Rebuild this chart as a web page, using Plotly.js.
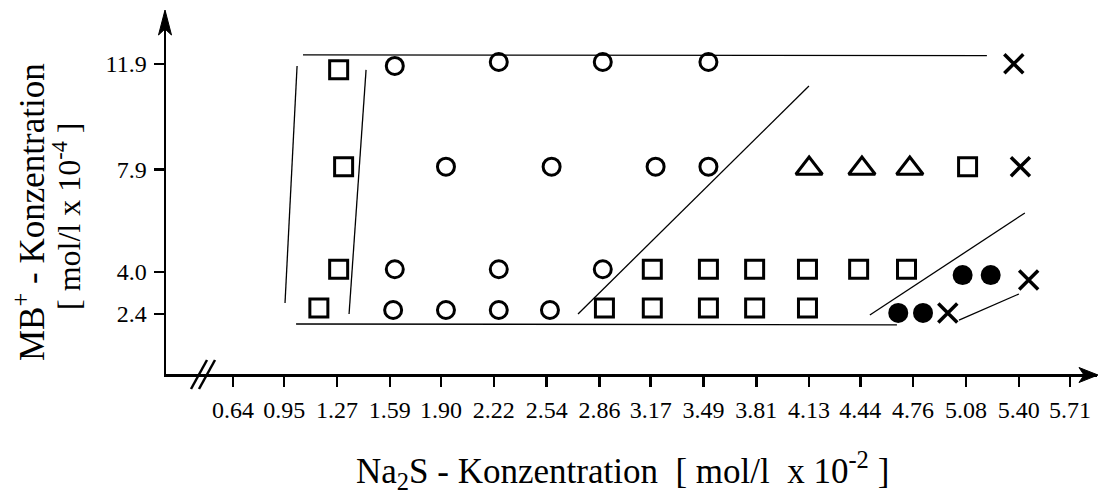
<!DOCTYPE html>
<html><head><meta charset="utf-8">
<script src="https://cdn.plot.ly/plotly-3.0.1.min.js"></script>
<style>html,body{margin:0;padding:0;background:#fff}</style>
</head><body><div id="chart" style="width:1099px;height:494px"></div>
<script>
// Tick labels
const xTickVals = [0.64,0.95,1.27,1.59,1.90,2.22,2.54,2.86,3.17,3.49,3.81,4.13,4.44,4.76,5.08,5.40,5.71];
const xTickText = ["0.64","0.95","1.27","1.59","1.90","2.22","2.54","2.86","3.17","3.49","3.81","4.13","4.44","4.76","5.08","5.40","5.71"];
const yTickVals = [2.4,4.0,7.9,11.9];
const yTickText = ["2.4","4.0","7.9","11.9"];

// Open squares
const squareX = [1.28,1.31,1.28,1.16, 3.18,3.52,3.80,4.12,4.43,4.72, 2.89,3.18,3.52,3.80,4.12, 5.09];
const squareY = [11.68,8.0,4.1,2.63, 4.1,4.1,4.1,4.1,4.1,4.1, 2.63,2.63,2.63,2.63,2.63, 8.0];
// Open circles
const circleX = [1.62,2.25,2.88,3.52, 1.93,2.57,3.20,3.52, 1.62,2.25,2.88, 1.61,1.93,2.25,2.56];
const circleY = [11.83,11.98,11.98,11.98, 8.0,8.0,8.0,8.0, 4.1,4.1,4.1, 2.55,2.55,2.55,2.55];
// Open triangles
const triX = [4.13,4.45,4.74];
const triY = [7.93,7.93,7.93];
// Filled circles
const dotX = [4.67,4.82,5.06,5.23];
const dotY = [2.44,2.44,3.88,3.88];
// Crosses
const crossX = [5.37,5.41,5.46,4.97];
const crossY = [11.91,8.0,3.69,2.44];

// Boundary lines (segments separated by null)
const lineX = [1.064,5.207,null, 1.022,4.662,null, 1.028,0.955,null, 1.446,1.343,null, 2.730,4.129,null, 4.498,5.437,null, 5.038,5.401];
const lineY = [12.25,12.22,null, 2.02,1.99,null, 11.83,2.82,null, 11.68,2.40,null, 2.40,11.07,null, 2.36,6.24,null, 2.17,3.16];

const FONT = '"Liberation Serif", "Times New Roman", serif';
const openMk = (sym, size) => ({symbol: sym, size: size, color: 'black', line: {color: 'black', width: 3}});

const traces = [
  {x: lineX, y: lineY, mode: 'lines', line: {color: 'black', width: 1.3}, hoverinfo: 'skip', cliponaxis: false},
  {x: squareX, y: squareY, mode: 'markers', marker: openMk('square-open', 18), cliponaxis: false},
  {x: circleX, y: circleY, mode: 'markers', marker: openMk('circle-open', 17), cliponaxis: false},
  {x: triX, y: triY, mode: 'markers', marker: openMk('triangle-up-open', 23), cliponaxis: false},
  {x: dotX, y: dotY, mode: 'markers', marker: {symbol: 'circle', size: 20, color: 'black'}, cliponaxis: false},
  {x: crossX, y: crossY, mode: 'markers', marker: {symbol: 'x-thin', size: 19, color: 'black', line: {color: 'black', width: 3.5}}, cliponaxis: false}
];

const W = 931, H = 362;
const px = v => (v - 166) / W;
const py = v => (374 - v) / H;

const layout = {
  width: 1099, height: 494,
  margin: {l: 166, r: 2, t: 12, b: 120},
  paper_bgcolor: 'white', plot_bgcolor: 'white',
  showlegend: false,
  font: {family: FONT, color: 'black'},
  xaxis: {
    range: [0.234, 5.874], showgrid: false, zeroline: false,
    showline: true, linecolor: 'black', linewidth: 2.5,
    ticks: 'outside', ticklen: 10, tickwidth: 2.5, tickcolor: 'black',
    tickmode: 'array', tickvals: xTickVals, ticktext: xTickText,
    ticklabelstandoff: 3,
    tickfont: {family: FONT, size: 24, color: 'black'}
  },
  yaxis: {
    range: [0.119, 13.88], showgrid: false, zeroline: false,
    showline: true, linecolor: 'black', linewidth: 2.5,
    ticks: 'outside', ticklen: 10, tickwidth: 2.5, tickcolor: 'black',
    tickmode: 'array', tickvals: yTickVals, ticktext: yTickText,
    ticklabelstandoff: 2,
    tickfont: {family: FONT, size: 24, color: 'black'}
  },
  shapes: [
    // y-axis arrowhead
    {type: 'path', xref: 'paper', yref: 'paper', fillcolor: 'black', line: {color: 'black', width: 1},
     path: `M ${px(165)},${py(10)} L ${px(171.5)},${py(35)} L ${px(165)},${py(29)} L ${px(158.5)},${py(35)} Z`},
    // x-axis arrowhead
    {type: 'path', xref: 'paper', yref: 'paper', fillcolor: 'black', line: {color: 'black', width: 1},
     path: `M ${px(1098)},${py(375)} L ${px(1079)},${py(367.5)} L ${px(1084)},${py(375)} L ${px(1079)},${py(382.5)} Z`},
    // axis break marks
    {type: 'line', xref: 'paper', yref: 'paper', x0: px(191), y0: py(389), x1: px(207), y1: py(360), line: {color: 'black', width: 2.5}},
    {type: 'line', xref: 'paper', yref: 'paper', x0: px(199), y0: py(389), x1: px(215), y1: py(360), line: {color: 'black', width: 2.5}}
  ],
  annotations: [
    {xref: 'paper', yref: 'paper', x: px(30), y: py(212), xanchor: 'center', yanchor: 'middle', textangle: -90, showarrow: false,
     text: 'MB<sup>+</sup> - Konzentration', font: {family: FONT, size: 35, color: 'black'}},
    {xref: 'paper', yref: 'paper', x: px(67), y: py(216), xanchor: 'center', yanchor: 'middle', textangle: -90, showarrow: false,
     text: '[ mol/l x 10<sup>-4</sup> ]', font: {family: FONT, size: 32, color: 'black'}},
    {xref: 'paper', yref: 'paper', x: px(622), y: py(470), xanchor: 'center', yanchor: 'middle', showarrow: false,
     text: 'Na<sub>2</sub>S - Konzentration  [ mol/l  x 10<sup>-2</sup> ]', font: {family: FONT, size: 35, color: 'black'}}
  ]
};

Plotly.newPlot('chart', traces, layout, {staticPlot: true, displayModeBar: false});
</script>
</body></html>
